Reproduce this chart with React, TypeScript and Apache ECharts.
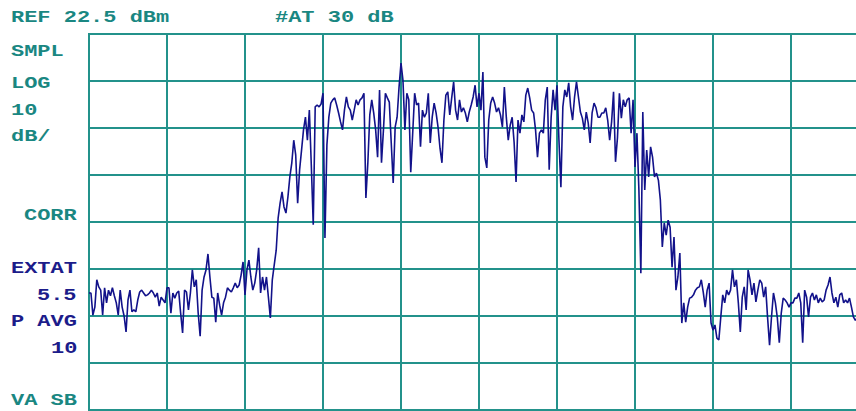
import React, { useEffect, useRef } from "react";
import * as echarts from "echarts";

// Header annotations
const refLabel = "REF 22.5 dBm";
const attenLabel = "#AT 30 dB";
// Left-side annotations (top to bottom)
const sideLabels = ["SMPL", "LOG", "10", "dB/", "CORR", "EXTAT", "5.5", "P AVG", "10", "VA SB"];

// Sweep: horizontal divisions (0..10), one display point every 0.025 division
const sampleStep = 0.025;
// Trace level, dB relative to reference level (0 = top graticule, -80 = bottom)
const traceDb = [
  -55.1, -55.1, -59.8, -58.1, -52.3, -53.8, -54.5, -59.8, -54.0, -57.2,
  -54.5, -55.7, -54.0, -55.7, -57.2, -59.8, -54.5, -58.1, -60.0, -63.4,
  -56.6, -54.5, -59.1, -58.7, -59.1, -56.6, -54.9, -54.5, -55.1, -55.7,
  -55.5, -55.1, -54.5, -55.1, -56.0, -55.1, -57.9, -56.0, -56.6, -57.2,
  -54.0, -54.0, -59.4, -55.1, -56.2, -55.1, -54.7, -59.4, -63.6, -54.5,
  -54.9, -58.7, -55.1, -50.2, -53.8, -52.3, -59.4, -64.3, -54.5, -51.7,
  -50.2, -46.8, -51.7, -56.0, -56.2, -61.3, -55.1, -57.7, -59.8, -57.2,
  -56.0, -54.0, -54.5, -54.9, -54.0, -53.0, -54.0, -53.4, -51.3, -48.5,
  -55.5, -50.2, -48.1, -51.7, -54.5, -53.0, -50.2, -45.5, -55.1, -51.7,
  -54.5, -51.7, -56.0, -60.4, -52.3, -49.1, -46.0, -39.1, -36.0, -33.6,
  -36.8, -38.1, -34.7, -30.4, -27.4, -22.6, -25.7, -36.0, -28.9, -24.7,
  -20.4, -17.7, -22.6, -16.2, -27.9, -40.6, -15.5, -15.1, -15.5, -14.9,
  -12.6, -43.4, -23.6, -17.7, -14.7, -14.0, -13.6, -15.1, -16.8, -18.7,
  -20.4, -16.2, -13.4, -15.5, -16.2, -18.3, -16.2, -14.0, -15.1, -14.0,
  -13.6, -12.6, -34.9, -27.4, -17.2, -14.0, -16.8, -20.4, -26.2, -11.9,
  -27.4, -20.4, -12.6, -13.6, -14.5, -23.2, -31.7, -19.8, -17.7, -11.3,
  -6.2, -9.8, -20.4, -12.6, -14.0, -29.4, -21.1, -12.6, -15.1, -14.7,
  -24.0, -16.2, -17.7, -16.8, -12.6, -23.2, -17.7, -14.7, -16.8, -19.8,
  -24.3, -27.4, -18.3, -13.0, -12.3, -17.2, -13.6, -10.2, -16.2, -18.3,
  -14.0, -16.6, -15.7, -16.8, -18.7, -16.6, -15.1, -13.4, -10.9, -15.5,
  -12.6, -16.2, -8.1, -26.2, -28.5, -18.3, -14.7, -13.4, -14.7, -16.6,
  -15.7, -17.2, -19.8, -11.3, -17.7, -22.6, -19.4, -17.7, -23.0, -31.5,
  -18.3, -21.1, -17.2, -18.7, -13.0, -11.5, -13.6, -16.2, -16.8, -20.4,
  -26.2, -21.1, -20.4, -21.1, -14.0, -11.3, -28.9, -17.7, -11.9, -16.2,
  -10.9, -22.6, -32.6, -15.5, -11.9, -13.4, -10.4, -15.5, -18.3, -13.4,
  -10.2, -13.4, -16.6, -17.9, -20.4, -16.6, -18.9, -23.2, -16.8, -14.7,
  -15.7, -17.7, -17.7, -16.8, -16.8, -15.7, -18.3, -22.6, -18.7, -12.3,
  -27.2, -22.1, -12.6, -17.9, -14.0, -15.5, -14.0, -13.6, -21.1, -14.0,
  -28.3, -21.1, -33.2, -50.9, -16.6, -33.2, -24.7, -30.4, -24.0, -26.2,
  -30.4, -29.6, -31.1, -35.3, -45.3, -40.2, -42.8, -39.6, -41.1, -49.6,
  -43.2, -54.5, -51.7, -46.6, -61.5, -57.2, -61.3, -58.1, -56.2, -56.0,
  -55.5, -54.5, -54.0, -53.8, -52.3, -54.9, -58.1, -54.5, -53.0, -61.5,
  -63.0, -61.9, -64.7, -65.1, -60.2, -55.5, -57.2, -54.5, -55.5, -54.5,
  -50.2, -53.8, -52.3, -57.2, -63.4, -56.0, -53.8, -58.7, -50.2, -52.3,
  -55.5, -53.0, -57.0, -54.5, -52.3, -53.0, -56.0, -53.8, -60.4, -66.2,
  -60.2, -55.1, -57.2, -60.4, -65.7, -59.4, -56.2, -56.6, -57.2, -58.1,
  -57.2, -57.2, -56.2, -56.2, -55.1, -57.2, -65.7, -54.5, -56.0, -60.2,
  -56.0, -55.1, -56.6, -55.5, -57.2, -56.2, -57.0, -56.6, -54.5, -53.4,
  -51.7, -55.1, -57.2, -56.0, -58.1, -55.5, -55.1, -57.2, -56.6, -57.2,
  -56.2, -58.1, -60.2, -60.9, -60.4, -59.1, -57.7, -56.6, -57.0, -57.7,
];

const TEAL_TEXT = "#1a8782";
const NAVY_TEXT = "#1c1c8a";
const GRID = "#23928b";
const TRACE = "#12128a";

export default function App() {
  const ref = useRef<HTMLDivElement>(null);

  useEffect(() => {
    if (!ref.current) return;
    const chart = echarts.init(ref.current, null, { renderer: "svg" });

    const font = "bold 22px 'Liberation Mono', 'DejaVu Sans Mono', monospace";
    const sy = 0.76;
    const mk = (text: string, x: number, y: number, color: string) => ({
      type: "text",
      x,
      y,
      scaleY: sy,
      style: { text, x: 0, y: 0, fill: color, font, textAlign: "left", textVerticalAlign: "middle" },
      z: 10,
    });

    const sideLayout: [number, number, string][] = [
      [11, 52, TEAL_TEXT],
      [11, 84, TEAL_TEXT],
      [11, 111, TEAL_TEXT],
      [11, 137, TEAL_TEXT],
      [24, 216, TEAL_TEXT],
      [11, 269, NAVY_TEXT],
      [37, 296, NAVY_TEXT],
      [11, 322, NAVY_TEXT],
      [51, 349, NAVY_TEXT],
      [11, 401, TEAL_TEXT],
    ];

    const graphics: any[] = [
      mk(refLabel, 11, 18, TEAL_TEXT),
      mk(attenLabel, 275, 18, TEAL_TEXT),
      ...sideLabels.map((t, i) => mk(t, sideLayout[i][0], sideLayout[i][1], sideLayout[i][2])),
    ];

    chart.setOption({
      animation: false,
      backgroundColor: "#ffffff",
      grid: {
        left: 89,
        top: 34,
        right: 11,
        bottom: 1,
        show: true,
        borderColor: GRID,
        borderWidth: 2,
        backgroundColor: "transparent",
      },
      xAxis: {
        type: "value",
        min: 0,
        max: 10,
        interval: 1,
        axisLine: { show: false },
        axisTick: { show: false },
        axisLabel: { show: false },
        splitLine: { show: true, lineStyle: { color: GRID, width: 2 } },
      },
      yAxis: {
        type: "value",
        min: -80,
        max: 0,
        interval: 10,
        axisLine: { show: false },
        axisTick: { show: false },
        axisLabel: { show: false },
        splitLine: { show: true, lineStyle: { color: GRID, width: 2 } },
      },
      series: [
        {
          type: "line",
          data: traceDb.map((v, i) => [i * sampleStep, v]),
          showSymbol: false,
          symbol: "none",
          lineStyle: { color: TRACE, width: 1.6 },
          z: 5,
        },
      ],
      graphic: graphics,
    });

    return () => chart.dispose();
  }, []);

  return (
    <div style={{ position: "absolute", left: 0, top: 0, width: 856, height: 411, overflow: "hidden" }}>
      <div ref={ref} style={{ width: 880, height: 411 }} />
    </div>
  );
}
